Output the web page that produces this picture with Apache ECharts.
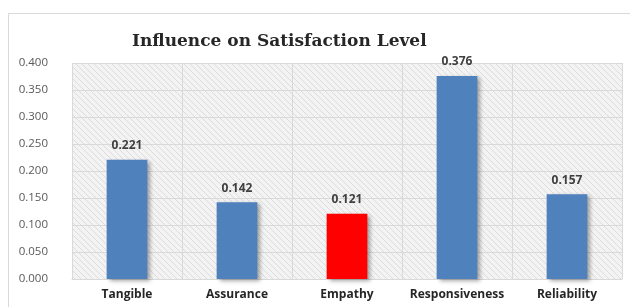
<!DOCTYPE html>
<html><head><meta charset="utf-8">
<script src="https://cdn.jsdelivr.net/npm/echarts@6/dist/echarts.min.js"></script>
<style>html,body{margin:0;padding:0;background:#fff}#c{width:630px;height:307px}</style>
</head><body><div id="c"></div>
<script>
const categories = ['Tangible','Assurance','Empathy','Responsiveness','Reliability'];
const values = [0.221, 0.142, 0.121, 0.376, 0.157];
const barColors = ['#4f81bd','#4f81bd','#ff0000','#4f81bd','#4f81bd'];
const yTicks = [0, 0.05, 0.1, 0.15, 0.2, 0.25, 0.3, 0.35, 0.4];

function hatch(){
  const cv = document.createElement('canvas');
  cv.width = 6; cv.height = 6;
  const g = cv.getContext('2d');
  g.fillStyle = '#f3f3f3'; g.fillRect(0,0,6,6);
  g.strokeStyle = '#dcdcdc'; g.lineWidth = 1;
  g.beginPath();
  g.moveTo(-1,-1); g.lineTo(7,7);
  g.moveTo(-1,5); g.lineTo(1,7);
  g.moveTo(5,-1); g.lineTo(7,1);
  g.stroke();
  return cv;
}
const pat = {image: hatch(), repeat: 'repeat'};

const chart = echarts.init(document.getElementById('c'));
chart.setOption({
  animation: false,
  title: {
    text: 'Influence on Satisfaction Level',
    left: 127, top: 28,
    textStyle: {fontFamily: 'DejaVu Serif', fontWeight: 'bold', fontSize: 17, color: '#262626'}
  },
  graphic: [{type:'rect', shape:{x:8.5,y:13.5,width:640,height:310}, style:{fill:'none', stroke:'#d9d9d9', lineWidth:1}, z:-1}],
  grid: {left: 72, right: 8, top: 63, bottom: 28},
  xAxis: {
    type: 'category', data: categories,
    axisLine: {show: true, lineStyle: {color: '#d9d9d9'}},
    axisTick: {show: false},
    splitLine: {show: true, interval: 0, lineStyle: {color: '#d9d9d9'}},
    axisLabel: {interval: 0, fontFamily: 'Open Sans', fontWeight: 'bold', fontSize: 12, color: '#262626', margin: 10}
  },
  yAxis: {
    type: 'value', min: 0, max: 0.4, interval: 0.05,
    axisLine: {show: false}, axisTick: {show: false},
    splitLine: {show: true, lineStyle: {color: '#d9d9d9'}},
    splitArea: {show: true, areaStyle: {color: [pat]}},
    axisLabel: {fontFamily: 'Open Sans', fontSize: 11.5, color: '#595959', margin: 24,
      formatter: v => v.toFixed(3)}
  },
  series: [{
    type: 'bar', barWidth: '37%',
    data: values.map((v,i) => ({value: v, itemStyle: {color: barColors[i]}})),
    itemStyle: {shadowBlur: 4, shadowOffsetX: 3, shadowOffsetY: 2, shadowColor: 'rgba(0,0,0,0.35)'},
    label: {show: true, position: 'top', distance: 8, formatter: p => p.value.toFixed(3),
      fontFamily: 'Open Sans', fontWeight: 'bold', fontSize: 12, color: '#404040'}
  }]
});
</script></body></html>
